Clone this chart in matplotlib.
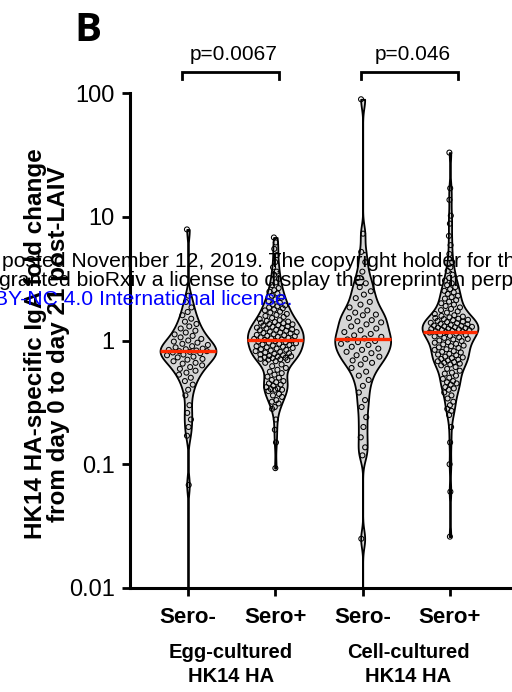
import numpy as np
import matplotlib.pyplot as plt
from matplotlib.ticker import NullLocator

plt.rcParams['font.family'] = ['Liberation Sans', 'DejaVu Sans']

# Data: HK14 HA-specific IgA fold change (day 0 -> day 21)
group_labels = ['Sero-', 'Sero+', 'Sero-', 'Sero+']
egg_neg = [7.9,
           2.3, 2.05, 1.85, 1.7, 1.6,
           1.5, 1.42, 1.36, 1.3, 1.25, 1.2,
           1.16, 1.12, 1.09, 1.06, 1.03, 1.0, 0.98, 0.96, 0.94, 0.92, 0.9, 0.88, 0.86, 0.85,
           0.84, 0.83, 0.82, 0.82,
           0.81, 0.8, 0.79, 0.77, 0.76, 0.74, 0.73, 0.71, 0.7, 0.68, 0.66, 0.65, 0.63, 0.61,
           0.59, 0.57, 0.55, 0.53, 0.5, 0.47, 0.44, 0.4,
           0.36, 0.3, 0.26, 0.23, 0.2, 0.17,
           0.068, 0.004]
egg_pos = [6.8, 6.2, 5.5, 4.9, 4.3,
           3.9, 3.6, 3.4, 3.15, 2.95, 2.8, 2.65, 2.55,
           2.48, 2.4, 2.3, 2.22, 2.15, 2.08, 2.02, 1.96, 1.92,
           1.89, 1.85, 1.82, 1.78, 1.75, 1.71, 1.68, 1.64, 1.61, 1.58, 1.55, 1.52, 1.49, 1.46,
           1.44, 1.42, 1.41, 1.39, 1.38, 1.36, 1.35, 1.33, 1.32, 1.3, 1.29, 1.27, 1.26, 1.25,
           1.23, 1.22, 1.21, 1.2, 1.18, 1.17, 1.16, 1.15, 1.14, 1.12, 1.11, 1.1, 1.09, 1.08,
           1.07, 1.06, 1.05, 1.04, 1.03, 1.02, 1.01, 1.005,
           0.99, 0.98, 0.97, 0.96, 0.95, 0.94, 0.93, 0.92, 0.91, 0.9, 0.89, 0.88, 0.87, 0.86,
           0.85, 0.84, 0.83, 0.82, 0.81, 0.8, 0.79, 0.78, 0.77, 0.76, 0.75, 0.745, 0.74, 0.73,
           0.725, 0.72, 0.71, 0.705, 0.7, 0.695,
           0.68, 0.66, 0.64, 0.62, 0.6, 0.58, 0.56, 0.545, 0.53, 0.51, 0.5, 0.48, 0.47, 0.46,
           0.45, 0.44, 0.43, 0.42, 0.41, 0.405, 0.4, 0.4,
           0.39, 0.37, 0.36, 0.35, 0.33, 0.32, 0.31, 0.29, 0.28,
           0.23, 0.19, 0.15, 0.093]
cell_neg = [89, 7.3,
            5.2, 4.3, 3.6, 3.2,
            2.9, 2.7, 2.5, 2.35, 2.2, 2.05,
            1.95, 1.85, 1.75, 1.68, 1.62, 1.6, 1.52, 1.46, 1.43, 1.4, 1.35, 1.3,
            1.25, 1.21, 1.17, 1.13, 1.1, 1.07, 1.04,
            1.02, 0.99, 0.97, 0.94, 0.92, 0.89, 0.86, 0.84, 0.81, 0.79, 0.76, 0.74, 0.71, 0.69,
            0.66, 0.64,
            0.6, 0.56, 0.52, 0.48,
            0.43, 0.38, 0.33, 0.29, 0.24, 0.2, 0.165, 0.137, 0.118,
            0.025, 0.004]
cell_pos = [33, 17, 13.7, 10.2, 8.8,
            7.0, 5.9, 5.0, 4.3,
            3.9, 3.65, 3.4, 3.2, 3.05, 2.9, 2.8, 2.7, 2.6,
            2.52, 2.45, 2.38, 2.3, 2.24, 2.18, 2.12, 2.06, 2.0, 1.95, 1.9, 1.85, 1.8, 1.76, 1.72,
            1.68, 1.64, 1.6,
            1.58, 1.56, 1.54, 1.52, 1.5, 1.49, 1.47, 1.46, 1.44, 1.42, 1.41, 1.39, 1.38, 1.36, 1.35,
            1.33, 1.32, 1.31, 1.3, 1.29, 1.28, 1.27, 1.26, 1.25, 1.24, 1.23, 1.22, 1.21, 1.2, 1.19,
            1.18, 1.17,
            1.16, 1.14, 1.12, 1.11, 1.09, 1.08, 1.06, 1.05, 1.03, 1.02, 1.0, 0.99, 0.97, 0.96, 0.94,
            0.93, 0.91, 0.9, 0.88, 0.87, 0.85, 0.84, 0.82, 0.81, 0.8, 0.78, 0.77, 0.76, 0.74, 0.73,
            0.72, 0.71, 0.7, 0.69, 0.68, 0.67, 0.66, 0.65, 0.64, 0.63,
            0.61, 0.59, 0.57, 0.55, 0.54, 0.52, 0.5, 0.49, 0.47, 0.46, 0.45, 0.44, 0.42, 0.41, 0.4,
            0.38, 0.36, 0.34, 0.32, 0.3, 0.28, 0.27, 0.25,
            0.2, 0.15, 0.1, 0.06, 0.026]
p_values = ['p=0.0067', 'p=0.046']
y_ticks = [0.01, 0.1, 1, 10, 100]
y_ticklabels = ['0.01', '0.1', '1', '10', '100']

W, H = 512, 692
fx = lambda px: px / W
fy = lambda py: 1 - py / H

fig = plt.figure(figsize=(W / 100, H / 100), dpi=100)
ax = fig.add_axes([fx(130), fy(588), fx(512) - fx(130), fy(93) - fy(588)])
ax.set_yscale('log')
ax.set_ylim(0.01, 100)
ax.set_xlim(0.336, 4.71)

positions = [1, 2, 3, 4]
bw = 0.07          # kde bandwidth in decades
max_half = 0.32    # widest half-width of every violin
for pos, vals in zip(positions, [egg_neg, egg_pos, cell_neg, cell_pos]):
    vals = np.array(vals)
    lv = np.log10(vals)
    grid = np.linspace(lv.min(), lv.max(), 600)
    dens = np.exp(-0.5 * ((grid[:, None] - lv[None, :]) / bw) ** 2).sum(axis=1)
    half = dens / dens.max() * max_half
    ax.fill_betweenx(10 ** grid, pos - half, pos + half, facecolor='#d6d6d6',
                     edgecolor='black', lw=1.3, zorder=2)
    # spread the dots inside the violin outline
    hw = np.interp(lv, grid, half)
    u = ((np.arange(len(lv)) * 0.618034) % 1) * 2 - 1
    ax.scatter(pos + hw * 0.8 * u, vals, s=13, facecolors='none', edgecolors='black',
               linewidths=0.75, zorder=3)
    med = np.median(vals)
    mh = np.interp(np.log10(med), grid, half)
    ax.plot([pos - mh, pos + mh], [med, med], color='#ff2a00', lw=2.4, zorder=4,
            solid_capstyle='butt')

# axes styling
for s in ['top', 'right']:
    ax.spines[s].set_visible(False)
for s in ['left', 'bottom']:
    ax.spines[s].set_linewidth(2.2)
ax.set_yticks(y_ticks)
ax.set_yticklabels(y_ticklabels, fontsize=17)
ax.yaxis.set_minor_locator(NullLocator())
ax.set_xticks(positions)
ax.set_xticklabels(group_labels, fontsize=16, fontweight='bold')
ax.tick_params(axis='both', width=2, length=6)
ax.tick_params(axis='y', pad=5)
ax.tick_params(axis='x', pad=8)

# significance brackets
for (x0, x1), txt, tx in zip([(0.93, 2.04), (2.98, 4.09)], p_values, [1.52, 3.57]):
    ax.plot([x0, x0, x1, x1], [130, 148, 148, 130], color='black', lw=2,
            clip_on=False, solid_joinstyle='miter')
    ax.text(tx, 185, txt, ha='center', va='baseline', fontsize=15)

# group labels under the axis
for xc, name in [(231, 'Egg-cultured'), (408, 'Cell-cultured')]:
    fig.text(fx(xc), fy(653), name, ha='center', va='center', fontsize=14.5, fontweight='bold')
    fig.text(fx(xc), fy(677), 'HK14 HA', ha='center', va='center', fontsize=14.5,
             fontweight='bold')

# y label (two lines)
fig.text(fx(47), fy(344), 'HK14 HA-specific IgA fold change\nfrom day 0 to day 21 post-LAIV',
         rotation=90, ha='center', va='center', fontsize=17.5, fontweight='bold',
         linespacing=0.95)

# panel letter
fig.text(fx(74), fy(41), 'B', ha='left', va='baseline', fontsize=29, fontweight='bold',
         family=['Open Sans', 'DejaVu Sans'])

# preprint watermark lying over the figure
fig.text(fx(2), fy(267), 'posted November 12, 2019. The copyright holder for this preprint',
         ha='left', va='baseline', fontsize=15.2, zorder=10)
fig.text(fx(-1), fy(286), 'granted bioRxiv a license to display the preprint in perpetuity.',
         ha='left', va='baseline', fontsize=15.2, zorder=10)
fig.text(fx(-6), fy(305), 'BY-NC 4.0 International license.',
         ha='left', va='baseline', fontsize=15.2, color='#0000ff', zorder=10)

fig.savefig('out.png', dpi=100)
